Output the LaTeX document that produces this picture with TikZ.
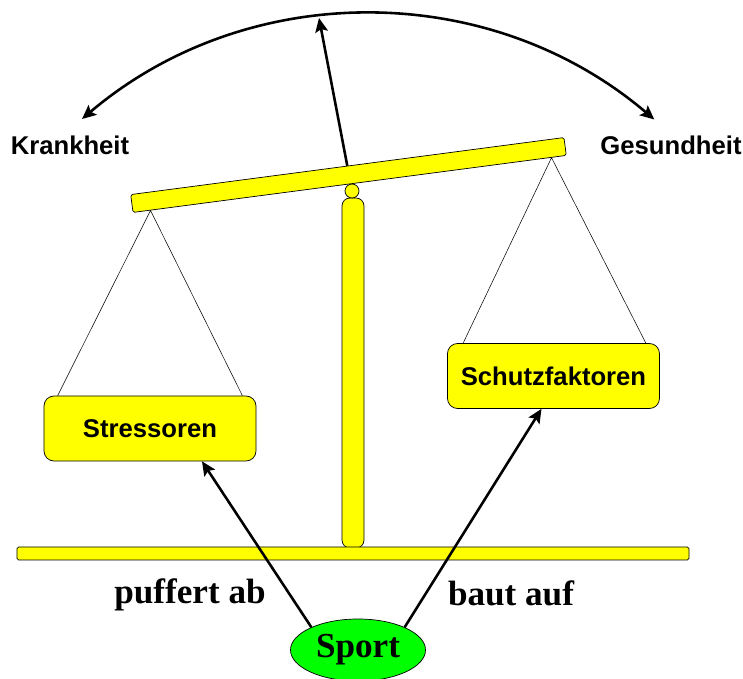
\documentclass[tikz,border=0pt]{standalone}
\usepackage{fontspec}
\setmainfont{Liberation Serif}
\setsansfont{Liberation Sans}
\usetikzlibrary{arrows.meta,calc,shapes.geometric}
\definecolor{yel}{RGB}{255,255,0}
\definecolor{grn}{RGB}{0,255,0}
\begin{document}
\begin{tikzpicture}[x=0.03cm,y=-0.03cm,
  part/.style={draw=black, line width=0.6pt, fill=yel},
  box/.style={part, rounded corners=0.3cm, minimum width=6.36cm, minimum height=1.95cm, inner sep=0pt,
    font=\sffamily\bfseries\fontsize{21.9}{24}\selectfont},
  lbl/.style={font=\sffamily\bfseries\fontsize{21.9}{24}\selectfont, inner sep=0pt},
  slbl/.style={font=\rmfamily\bfseries\fontsize{30}{32}\selectfont, inner sep=0pt},
  arr/.style={line width=2.2pt, -{Stealth[length=4.2mm,width=3.8mm,inset=0.8mm]}},
  darr/.style={line width=2.2pt, {Stealth[length=4.2mm,width=3.8mm,inset=0.8mm]}-{Stealth[length=4.2mm,width=3.8mm,inset=0.8mm]}},
  rope/.style={line width=0.45pt}]
\useasboundingbox (0,0) rectangle (743,679);
% post and base
\node[part, rounded corners=0.24cm, minimum width=0.66cm, minimum height=10.5cm, inner sep=0pt] (post) at (353,373) {};
\node[part, rounded corners=0.05cm, minimum width=20.16cm, minimum height=0.39cm, inner sep=0pt] (base) at (353,553.5) {};
% pivot
\node[part, circle, minimum size=0.42cm, inner sep=0pt] (pivot) at (352,191) {};
% beam
\node[part, rounded corners=0.05cm, minimum width=13.11cm, minimum height=0.54cm, inner sep=0pt, rotate=7.5] (beam) at (348.5,175) {};
% boxes
\node[box] (stress) at (150,428.5) {Stressoren};
\node[box] (schutz) at (553.5,376) {Schutzfaktoren};
% ropes
\coordinate (hl) at ($(beam.south west)!0.041!(beam.south east)$);
\coordinate (hr) at ($(beam.south west)!0.965!(beam.south east)$);
\draw[rope] ($(stress.north west)+(14,0)$) -- (hl) -- ($(stress.north east)+(-14,0)$);
\draw[rope] ($(schutz.north west)+(16,0)$) -- (hr) -- ($(schutz.north east)+(-14,0)$);
% labels
\node[lbl] (krank) at (70,145) {Krankheit};
\node[lbl] (gesund) at (671,145) {Gesundheit};
% top arc
\coordinate (kl) at (82,119);
\draw[darr] (kl) arc[start angle=-130.3, end angle=-49.6, radius=442];
% pointer
\coordinate (ptr) at (319,18);
\draw[arr] (beam.north) -- (ptr);
% sport
\node[draw=black, line width=0.6pt, fill=grn, ellipse, minimum width=4.05cm, minimum height=1.86cm, inner sep=0pt, slbl] (sport) at (358,650) {Sport};
\draw[arr] (sport.154) -- ($(stress.south)+(52,0)$);
\draw[arr] (sport.26) -- ($(schutz.south)+(-12,0)$);
\node[slbl] (puff) at (190,595) {puffert ab};
\node[slbl] (baut) at (511,593) {baut auf};
\end{tikzpicture}
\end{document}
